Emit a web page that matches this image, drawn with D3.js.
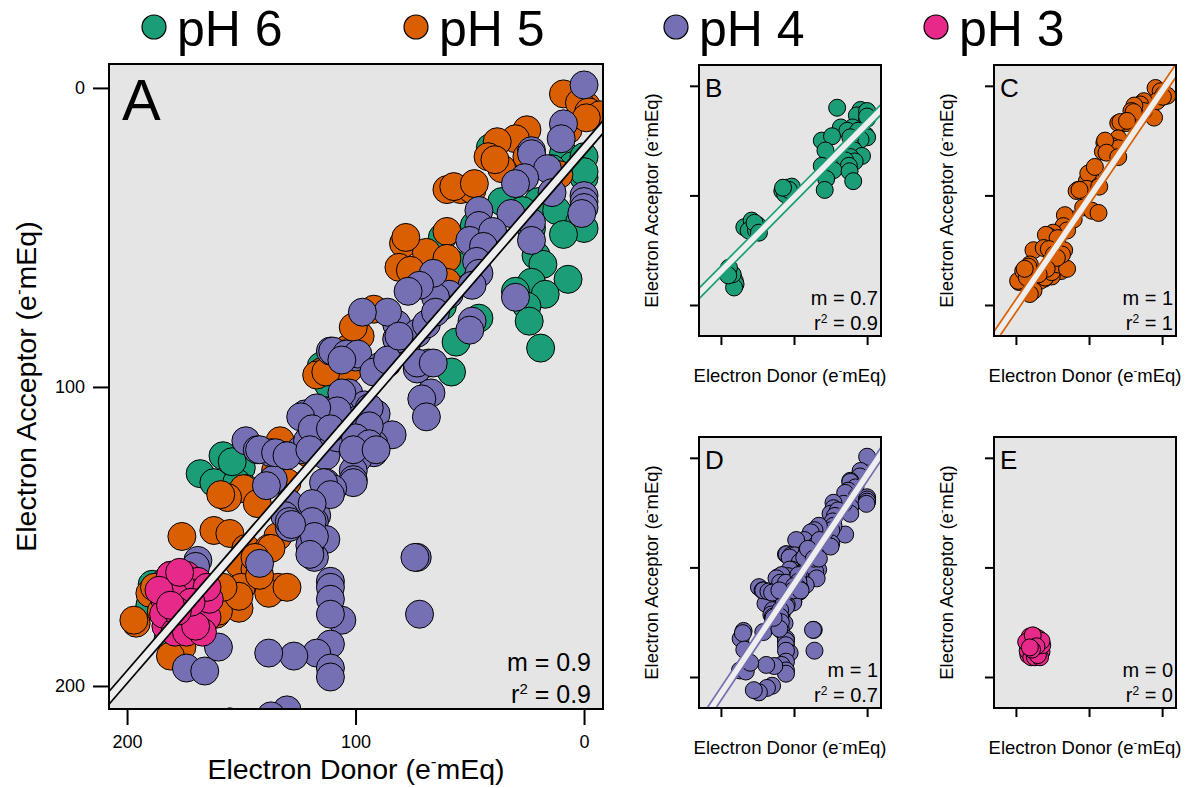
<!DOCTYPE html>
<html>
<head>
<meta charset="utf-8">
<script src="https://cdn.jsdelivr.net/npm/d3@7"></script>
<style>
  body { margin: 0; background: #fff; }
  text { font-family: "Liberation Sans", Arial, Helvetica, sans-serif; fill: #000; }
</style>
</head>
<body>
<div id="chart"></div>
<script>
// series names and colours
var series = ["pH 6", "pH 5", "pH 4", "pH 3"];
var colors = ["#1b9e77", "#d95f02", "#7570b3", "#e7298a"];
var panelLetters = ["B", "C", "D", "E"];
var tickValues = [200, 100, 0];

// [electron donor, electron acceptor] in e- mEq
var ph6 = [[183,175],[181,178],[180,181],[182,184],[184,172],[189,166],[190,173],
  [168,129],[158,123],[150,127],[162,132],[152,132],[154,125],[148,134],
  [116,96],[110,93],[103,92],[112,99],[107,95],[115,93],
  [41,20],[9,22],[5,26],[14,27],[0,30],[0,23],[0,28],[20,38],[36,38],[27,41],[12,41],[2,45],[0,47],
  [9,49],[62,50],[48,46],[23,47],[21,56],[57,59],[18,59],[7,64],[23,65],[17,69],[30,68],[25,73],
  [62,73],[46,77],[56,85],[58,95],[24,78],[19,87]];

var ph5 = [[9,2],[-1,6],[2,5],[-2,8],[-7,9],[7,14],[-1,10],[11,29],
  [25,14],[30,17],[25,23],[38,18],[42,23],[36,27],[39,24],
  [54,34],[60,34],[49,34],[57,33],[48,32],
  [60,48],[79,52],[81,60],[69,55],[60,57],[78,50],[76,61],[60,65],
  [98,83],[103,87],[101,80],[92,74],[115,95],[103,94],[117,96],[86,92],[113,95],
  [108,111],[96,114],[87,116],
  [121,122],[133,118],[135,128],[130,132],[149,134],[156,137],[159,136],[143,139],
  [176,150],[162,148],[155,149],[148,154],[134,150],[138,154],[151,159],[144,161],[150,167],
  [134,167],[138,169],[151,174],[164,171],[161,176],
  [196,179],[197,178],[190,169],[181,163],[174,181],[167,178],[176,187],[160,175],[151,170],
  [142,163],[130,167],[137,154],[144,157],[158,167],[169,172],[185,175],[181,190],[183,165],[188,167]];

var ph4 = [[0,-1],[9,12],[10,17],[23,21],[23,22],[16,27],[26,30],[30,32],[14,35],[0,36],[0,38],[0,40],[1,42],
  [23,45],[23,51],[30,70],[32,42],[46,41],[46,46],[50,51],[40,48],[44,53],[47,58],[46,62],[49,66],[49,78],
  [59,69],[65,70],[66,62],[72,66],[77,68],[82,79],[86,75],[97,75],[78,87],[73,82],[69,79],[65,75],
  [68,92],[73,94],[67,102],[71,104],[50,81],
  [111,88],[105,89],[100,90],[110,88],[104,89],[99,89],[106,91],[89,93],[92,95],[82,84],[86,91],[81,83],
  [73,92],[66,92],[69,110],
  [103,102],[113,108],[122,109],[106,108],[96,106],[91,109],
  [148,118],[143,121],[137,122],[131,123],[124,121],[121,118],[118,112],[111,108],[106,109],[99,111],
  [96,116],[84,116],[92,119],[92,122],[99,124],[101,128],[101,131],[101,132],[113,123],[108,117],[115,116],
  [136,131],[139,133],[129,139],[131,143],[129,147],[118,139],[117,143],[113,132],[110,134],[118,145],
  [113,151],[118,157],[120,153],[111,165],[111,167],[111,171],[106,178],[111,176],[111,186],[117,189],
  [111,194],[111,197],[127,190],[138,189],[130,208],[137,210],[148,214],[155,212],[142,159],[169,158],
  [174,194],[166,195],[73,157],[72,176],
  [106,102],[108,108],[117,107],[124,110],[119,114],[111,114],[94,107],[94,113],[100,117],[94,119],
  [101,121],[91,121],[114,132],[111,136],[119,139],[129,145],[119,145],[118,150],[120,156],
  [142,121],[135,122],[130,123],[120,121],[74,157],[128,146],
  [173,165],[170,160],[168,175],[160,187]];

var ph3 = [[183.5,171],[181,163],[174,163],[169,165],[167,171],[170.5,169],[176,167],[179,170],[174,174],
  [169,176],[165,177],[172,179],[177,178],[183,180],[184,176],[179,182],[174,182],[167,182],[170,180],
  [164,171],[186,168],[165,167],[177,162],[172,172],[178,175],[181,173]];

var allSeries = [ph6, ph5, ph4, ph3];

// regression fits: A (all), B, C, D, E
var fitIntercept = [20.4, 34.5, 4.7, 15.4, null];
var fitSlope = [0.883, 0.674, 0.98, 1.0, null];
var mLabels = ["0.9", "0.7", "1", "1", "0"];
var r2Labels = ["0.9", "0.9", "1", "0.7", "0"];

var width = 1186, height = 788;
var svg = d3.select("#chart").append("svg")
  .attr("width", width).attr("height", height);

function titleText(sel, fs, before, after) {
  sel.append("tspan").text(before);
  sel.append("tspan").attr("font-size", fs * 0.6).attr("dy", -fs * 0.42).text("-");
  sel.append("tspan").attr("dy", fs * 0.42).text(after);
}

function panel(cfg, idx) {
  var g = svg.append("g").attr("transform", "translate(" + cfg.left + "," + cfg.top + ")");
  var x = d3.scaleLinear().domain(cfg.xDom).range([0, cfg.w]);
  var y = d3.scaleLinear().domain(cfg.yDom).range([0, cfg.h]);

  g.append("rect").attr("width", cfg.w).attr("height", cfg.h).attr("fill", "#e5e5e5");

  var clipId = "clip" + idx;
  g.append("clipPath").attr("id", clipId).append("rect").attr("width", cfg.w).attr("height", cfg.h);
  var inner = g.append("g").attr("clip-path", "url(#" + clipId + ")");

  cfg.layers.forEach(function (s) {
    inner.append("g").selectAll("circle")
      .data(allSeries[s])
      .enter().append("circle")
      .attr("cx", function (d) { return x(d[0]); })
      .attr("cy", function (d) { return y(d[1]); })
      .attr("r", cfg.r)
      .attr("fill", colors[s])
      .attr("stroke", "#000")
      .attr("stroke-width", 1);
  });

  if (fitSlope[idx] !== null) {
    var ends = [cfg.xDom[0] + 20, cfg.xDom[1] - 20];
    var line = d3.line()
      .x(function (d) { return x(d); })
      .y(function (d) { return y(fitIntercept[idx] + fitSlope[idx] * d); });
    inner.append("path").datum(ends).attr("d", line)
      .attr("stroke", cfg.lineColor).attr("stroke-width", cfg.lineW).attr("fill", "none");
    inner.append("path").datum(ends).attr("d", line)
      .attr("stroke", "#eeeeee").attr("stroke-width", cfg.lineW - 3.4).attr("fill", "none");
  }

  g.append("rect").attr("width", cfg.w).attr("height", cfg.h)
    .attr("fill", "none").attr("stroke", "#000").attr("stroke-width", 2);

  var xa = d3.axisBottom(x).tickValues(tickValues).tickSize(cfg.tick).tickPadding(10);
  var ya = d3.axisLeft(y).tickValues(tickValues).tickSize(cfg.tick).tickPadding(8);
  if (!cfg.labels) { xa.tickFormat(""); ya.tickFormat(""); }
  var gx = g.append("g").attr("transform", "translate(0," + cfg.h + ")").call(xa);
  var gy = g.append("g").call(ya);
  [gx, gy].forEach(function (a) {
    a.select(".domain").remove();
    a.selectAll("line").attr("stroke", "#000").attr("stroke-width", 2);
    a.selectAll("text").attr("font-size", 18).attr("fill", "#000")
      .style("font-family", "'Liberation Sans', Arial, sans-serif");
  });

  g.append("text").attr("x", cfg.letterX).attr("y", cfg.letterY)
    .attr("font-size", cfg.letterSize).text(cfg.letter);

  g.append("text").attr("x", cfg.w - cfg.statPad).attr("y", cfg.h - cfg.mUp)
    .attr("text-anchor", "end").attr("font-size", cfg.statSize)
    .text("m = " + mLabels[idx]);
  var r2 = g.append("text").attr("x", cfg.w - cfg.statPad).attr("y", cfg.h - 6)
    .attr("text-anchor", "end").attr("font-size", cfg.statSize);
  r2.append("tspan").text("r");
  r2.append("tspan").attr("font-size", cfg.statSize * 0.6).attr("dy", -cfg.statSize * 0.36).text("2");
  r2.append("tspan").attr("dy", cfg.statSize * 0.36).text(" = " + r2Labels[idx]);

  var xt = g.append("text").attr("x", cfg.w / 2).attr("y", cfg.h + cfg.xTitleDown)
    .attr("text-anchor", "middle").attr("font-size", cfg.titleSize);
  titleText(xt, cfg.titleSize, "Electron Donor (e", "mEq)");
  var yt = g.append("text")
    .attr("transform", "translate(" + (-cfg.yTitleLeft) + "," + (cfg.h / 2) + ") rotate(-90)")
    .attr("text-anchor", "middle").attr("font-size", cfg.titleSize);
  titleText(yt, cfg.titleSize, "Electron Acceptor (e", "mEq)");
}

// big panel A
panel({
  left: 109, top: 64, w: 494, h: 645,
  xDom: [207.9, -8.3], yDom: [-8.0, 207.7],
  r: 14, layers: [0, 1, 2, 3], lineColor: "#000", lineW: 10,
  tick: 16, labels: true,
  letter: "A", letterX: 13, letterY: 56, letterSize: 58,
  statSize: 25, statPad: 12, mUp: 38,
  titleSize: 28.5, xTitleDown: 70, yTitleLeft: 73
}, 0);

// small panels B-E
var smallLeft = [699, 994, 699, 994];
var smallTop = [65, 65, 437, 437];
panelLetters.forEach(function (L, i) {
  panel({
    left: smallLeft[i], top: smallTop[i], w: 182, h: 271,
    xDom: [230, -19], yDom: [-19, 228.3],
    r: 8.5, layers: [i], lineColor: colors[i], lineW: 9,
    tick: 9, labels: false,
    letter: L, letterX: 6, letterY: 32, letterSize: 26,
    statSize: 20, statPad: 3, mUp: 31,
    titleSize: 18.5, xTitleDown: 46, yTitleLeft: 41
  }, i + 1);
});

// legend on top
var legendX = [154, 416, 676, 936];
var legend = svg.append("g");
series.forEach(function (s, i) {
  legend.append("circle").attr("cx", legendX[i]).attr("cy", 27).attr("r", 12)
    .attr("fill", colors[i]).attr("stroke", "#000").attr("stroke-width", 1.2);
  legend.append("text").attr("x", legendX[i] + 23).attr("y", 46)
    .attr("font-size", 50).text(s);
});
</script>
</body>
</html>
